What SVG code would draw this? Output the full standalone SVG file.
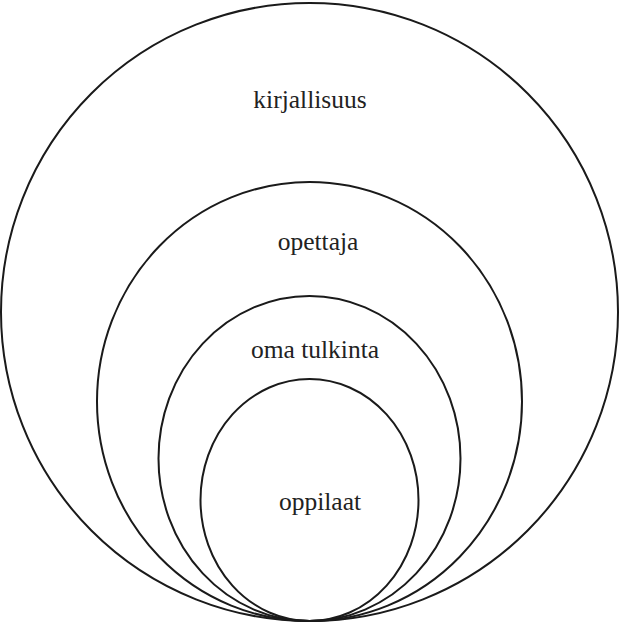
<svg xmlns="http://www.w3.org/2000/svg" width="619" height="624" viewBox="0 0 619 624">
  <style>
    .ring { fill: none; stroke: #1a1a1a; stroke-width: 2; }
    .label { font-family: 'Liberation Serif', 'Times New Roman', Times, serif; font-size: 25.5px; fill: #222; text-anchor: middle; }
  </style>
  <rect width="619" height="624" fill="#ffffff"/>
  <g id="kirjallisuus">
    <ellipse class="ring" cx="309.5" cy="312" rx="308.5" ry="309"/>
    <text class="label" x="310" y="108">kirjallisuus</text>
  </g>
  <g id="opettaja">
    <ellipse class="ring" cx="309.5" cy="401.5" rx="212.5" ry="219.5"/>
    <text class="label" x="318" y="250">opettaja</text>
  </g>
  <g id="oma-tulkinta">
    <ellipse class="ring" cx="309.5" cy="458.5" rx="151" ry="162.5"/>
    <text class="label" x="315" y="358">oma tulkinta</text>
  </g>
  <g id="oppilaat">
    <ellipse class="ring" cx="309.5" cy="500" rx="109" ry="121"/>
    <text class="label" x="320" y="510">oppilaat</text>
  </g>
</svg>
